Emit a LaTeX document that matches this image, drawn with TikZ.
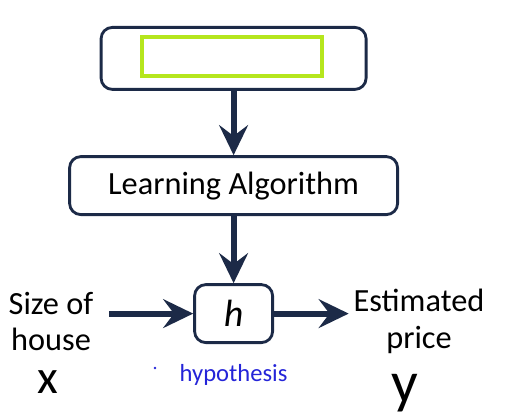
\documentclass[tikz,border=0pt]{standalone}
\usepackage{fontspec}
\setmainfont{Carlito}
\usetikzlibrary{arrows.meta, positioning}
\definecolor{navy}{HTML}{1C2A47}
\definecolor{lime}{HTML}{B5E61D}
\definecolor{ink}{HTML}{2424D8}

\begin{document}
\begin{tikzpicture}[
    box/.style={draw=navy, line width=2pt, rounded corners=8pt, fill=white, font=\fontsize{23}{27}\selectfont},
    caption/.style={align=center, inner ysep=0pt, font=\fontsize{23}{26}\selectfont},
    hand/.style={font=\fontsize{17.5}{20}\selectfont, text=ink},
    letter/.style={inner sep=0pt},
    arrow/.style={-{Stealth[length=0.75cm, width=0.72cm, inset=0.27cm]}, line width=0.15cm, navy}
]
\useasboundingbox (0,0) rectangle (12.7,-10.45);
\node[box, minimum width=6.625cm, minimum height=1.55cm] (data) at (5.84,-1.46) {};
\node[draw=lime, line width=0.1cm, minimum width=4.5cm, minimum height=0.975cm] (blank) at (5.8,-1.41) {};
\node[box, minimum width=8.2cm, minimum height=1.45cm] (learn) at (5.84,-4.64) {Learning Algorithm};
\node[box, minimum width=1.95cm, minimum height=1.45cm, font=\fontsize{27}{30}\selectfont] (h) at (5.84,-7.84) {\textit{h}};
\node[caption] (house) at (1.275,-8.04) {Size of\\house};
\node[caption] (price) at (10.475,-8.04) {Estimated\\price};
\node[hand] (hyp) at (5.84,-9.38) {hypothesis};
\fill[ink] (3.875,-9.2) circle (0.035);
\node[letter, font=\fontsize{34}{38}\selectfont] (x) at (1.2,-9.55) {x};
\node[letter, font=\fontsize{42}{46}\selectfont] (y) at (10.125,-9.82) {y};
\draw[arrow] (data) -- (learn);
\draw[arrow] (learn) -- (h);
\draw[arrow, shorten <=0.275cm] (h.west -| house.east) -- (h.west);
\draw[arrow] (h.east) -- (h.east -| price.west);
\end{tikzpicture}
\end{document}
